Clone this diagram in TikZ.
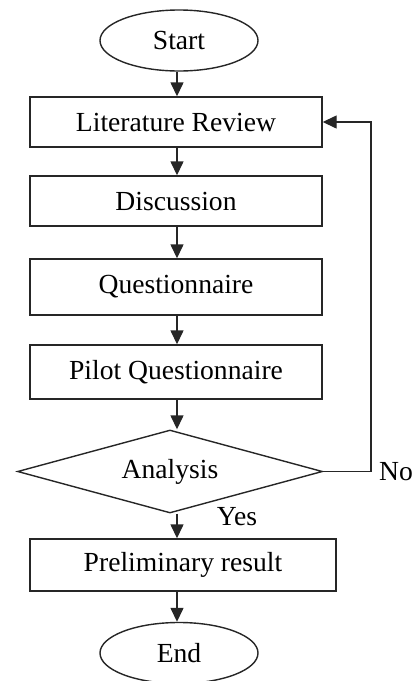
\documentclass[tikz,border=0pt]{standalone}
\usepackage{fontspec}
\setmainfont{Liberation Serif}
\usetikzlibrary{shapes.geometric,arrows.meta}
\begin{document}
\begin{tikzpicture}[x=1pt,y=-1pt,
  every node/.style={font=\fontsize{27.6}{32}\selectfont, text=black},
  line/.style={draw=black!85, line width=1.4pt},
  stepbox/.style={line, rectangle, inner sep=0pt, minimum width=292pt},
  term/.style={line, ellipse, inner sep=0pt, minimum width=158pt, minimum height=61pt},
  decision/.style={line, diamond, inner sep=0pt, aspect=3.67, minimum width=305pt, minimum height=83pt},
  arr/.style={line, -{Triangle[length=14pt,width=13pt]}},
  label/.style={inner sep=0pt}]
\useasboundingbox (0,0) rectangle (415,681);
\clip (0,0) rectangle (415,681);

% flow steps
\node[term] (start) at (179,40.5) {Start};
\node[stepbox, minimum height=50pt] (lit) at (176,122) {Literature Review};
\node[stepbox, minimum height=50pt] (disc) at (176,201) {Discussion};
\node[stepbox, minimum height=56pt] (quest) at (176,287) {Questionnaire};
\node[stepbox, minimum height=54pt] (pilot) at (176,372) {Pilot Questionnaire};
\node[decision] (ana) at (170,471.5) {Analysis};
\node[stepbox, minimum width=306pt, minimum height=52pt] (prel) at (183,565) {Preliminary result};
\node[term] (end) at (179,653) {End};

% branch labels
\node[label] (yes) at (237,517) {Yes};
\node[label] (no) at (396,472) {No};

% connectors
\coordinate (c1) at (177,0);
\draw[arr] (start.south -| c1) -- (lit.north -| c1);
\draw[arr] (lit.south -| c1) -- (disc.north -| c1);
\draw[arr] (disc.south -| c1) -- (quest.north -| c1);
\draw[arr] (quest.south -| c1) -- (pilot.north -| c1);
\draw[arr] (pilot.south -| c1) -- (ana.north -| c1);
\draw[arr] (ana.south -| c1) -- (prel.north -| c1);
\draw[arr] (prel.south -| c1) -- (end.north -| c1);

% loop back when the analysis fails
\coordinate (back) at (371,0);
\draw[line] (ana.east) -- (ana.east -| back);
\draw[arr] (ana.east -| back) -- (lit.east -| back) -- (lit.east);
\end{tikzpicture}
\end{document}
